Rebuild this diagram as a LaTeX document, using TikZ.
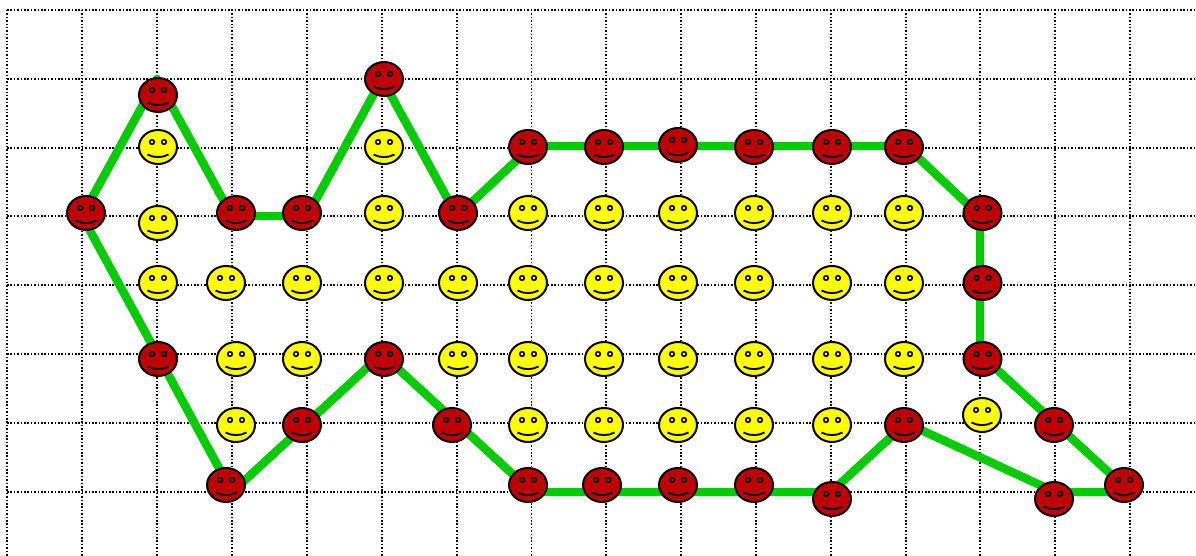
\documentclass[tikz,border=0pt]{standalone}
\definecolor{cRed}{HTML}{BF0000}
\definecolor{cYellow}{HTML}{FFFF00}
\definecolor{cGreen}{HTML}{00CC00}
\usetikzlibrary{shapes.geometric}

\begin{document}
\begin{tikzpicture}[x=0.5pt,y=-0.5pt,
      gridline/.style={line width=0.55pt,color=black,dash pattern=on 0.75pt off 0.95pt},
      route/.style={line width=4.2pt,color=cGreen,line join=round},
      smiley/.style={ellipse,draw=black,line width=1pt,inner sep=0pt,
        minimum width=19pt,minimum height=17pt,
        path picture={
          \draw[line width=0.8pt,shift={(path picture bounding box.center)}]
            (-6,-5) circle[radius=2.3] (6,-5) circle[radius=2.3];
          \draw[line width=0.95pt,shift={(path picture bounding box.center)}]
            (-10.5,7.5) .. controls (-4,11) and (4,11) .. (10.5,7.5);
        }},
      redface/.style={smiley,fill=cRed},
      yellowface/.style={smiley,fill=cYellow}]
    \useasboundingbox (0,0) rectangle (1196,556);
    % grid
    \foreach \x in {7,82,157,232,307,382,457,531.5,606,681,756,831,906,980,1055,1130}
      \draw[gridline] (\x,10) -- (\x,556);
    \foreach \y in {10,79,148,216,285,354,423,492}
      \draw[gridline] (7,\y) -- (1196,\y);
    % corners of the route, on grid crossings
    \foreach \name/\x/\y in {p1/82/216, p2/157/79, p3/232/216, p4/307/216, p5/382/79,
        p6/457/216, p7/532/146, p8/906/146, p9/980/216, p10/980/354, p11/1055/423,
        p12/1130/492, p13/1055/492, p14/906/423, p15/831/492, p16/532/492,
        p17/457/423, p18/382/354, p19/307/423, p20/232/492, p21/157/354}
      \coordinate (\name) at (\x,\y);
    \draw[route] (p1) -- (p2) -- (p3) -- (p4) -- (p5) -- (p6) -- (p7) -- (p8) -- (p9)
      -- (p10) -- (p11) -- (p12) -- (p13) -- (p14) -- (p15) -- (p16) -- (p17) -- (p18)
      -- (p19) -- (p20) -- (p21) -- cycle;
    % yellow faces
    \foreach \x/\y [count=\i] in {158/147, 384/147, 158/223, 384/213, 528/213, 604/213,
        678/213, 754/213, 832/213, 904/213, 158/283, 226/283, 302/283, 384/283, 458/283,
        528/283, 604/283, 678/283, 754/283, 832/283, 904/283, 236/359, 302/359, 458/359,
        528/359, 604/359, 678/359, 754/359, 832/359, 904/359, 236/425, 528/425, 604/425,
        678/425, 754/425, 832/425, 982/415}
      \node[yellowface] (y\i) at (\x,\y) {};
    % red faces
    \foreach \x/\y [count=\i] in {86/213, 158/95, 236/213, 302/213, 384/79, 458/213,
        528/147, 604/147, 678/145, 754/147, 832/147, 904/147, 982.5/213, 982.5/283, 982.5/359,
        1054/425, 1124/485, 1054/499, 904/425, 832/499, 754/485, 678/485, 602/485,
        528/485, 452/425, 384/359, 302/425, 226/485, 158/359}
      \node[redface] (r\i) at (\x,\y) {};
  \end{tikzpicture}
\end{document}
